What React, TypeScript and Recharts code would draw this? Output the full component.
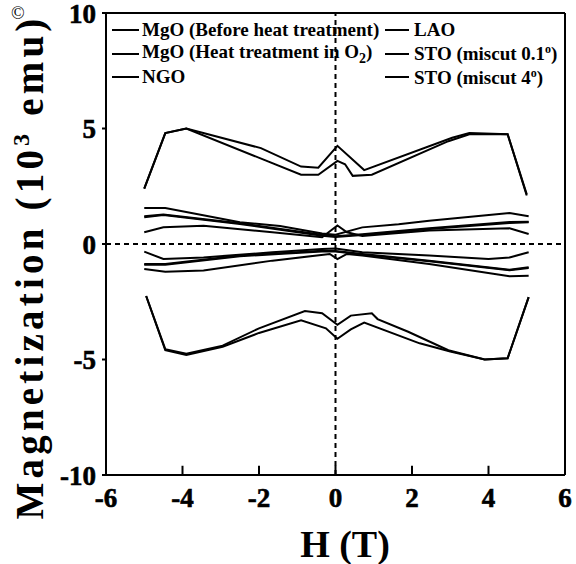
import React from "react";
import {
  LineChart,
  Line,
  XAxis,
  YAxis,
  ReferenceLine,
} from "recharts";

// H (T) vs M (10^3 emu); each sample has an upper and a lower branch
const mgoBeforeUp = [
  [-5, 2.4], [-4.45, 4.8], [-3.9, 5.0], [-1.95, 4.15], [-0.9, 3.35], [-0.45, 3.3],
  [0.05, 4.25], [0.75, 3.2], [3.05, 4.6], [3.5, 4.8], [4.5, 4.75], [5.0, 2.1],
];
const mgoBeforeDown = [
  [5.05, -2.3], [4.5, -4.95], [3.9, -5.0], [3.0, -4.65], [2.2, -4.3], [0.75, -3.4],
  [0.4, -3.7], [0.05, -4.1], [-0.25, -3.65], [-0.9, -3.3], [-2, -3.85],
  [-2.95, -4.45], [-3.9, -4.8], [-4.45, -4.6], [-4.95, -2.25],
];
const mgoO2Up = [
  [-5, 2.4], [-4.45, 4.8], [-3.9, 5.0], [-0.9, 3.0], [-0.45, 3.0], [0.05, 3.6],
  [0.25, 3.45], [0.45, 2.95], [0.95, 3.0], [2.95, 4.45], [3.5, 4.75], [4.5, 4.75], [5.0, 2.15],
];
const mgoO2Down = [
  [5.05, -2.3], [4.5, -4.95], [3.9, -5.0], [2.95, -4.6], [1.9, -3.8], [1.1, -3.25],
  [0.95, -3.0], [0.4, -3.1], [0.05, -3.5], [-0.35, -3.0], [-0.8, -2.9], [-2, -3.65],
  [-2.95, -4.4], [-3.9, -4.75], [-4.45, -4.55], [-4.95, -2.25],
];
const ngoUp = [
  [-5, 1.56], [-4.45, 1.56], [-2.5, 0.94], [-1.45, 0.78], [-0.35, 0.45], [0, 0.4],
  [0.7, 0.72], [1.65, 0.85], [2.45, 1.01], [4.55, 1.34], [5.05, 1.2],
];
const ngoDown = [
  [5.05, -0.36], [4.55, -0.58], [4.0, -0.65], [2.45, -0.5], [0.7, -0.36], [0, -0.2],
  [-0.35, -0.22], [-1.65, -0.36], [-3.45, -0.58], [-4.5, -0.65], [-5, -0.33],
];
const laoUp = [
  [-5, 1.16], [-4.5, 1.26], [-2.5, 0.87], [-0.35, 0.36], [0, 0.3], [0.7, 0.39],
  [2.45, 0.65], [4.55, 0.91], [5.05, 0.94],
];
const laoDown = [
  [5.05, -1.01], [4.55, -1.11], [2.45, -0.72], [0.7, -0.43], [0, -0.3], [-0.35, -0.29],
  [-2.5, -0.5], [-4.45, -0.87], [-5, -0.87],
];
const sto01Up = [
  [-5, 0.51], [-4.5, 0.72], [-3.45, 0.79], [-1.65, 0.51], [-0.35, 0.29], [0.05, 0.8],
  [0.3, 0.51], [0.7, 0.35], [2.45, 0.58], [4.55, 0.68], [5.05, 0.43],
];
const sto01Down = [
  [5.05, -1.37], [4.55, -1.4], [2.45, -0.87], [0.7, -0.5], [0.3, -0.43], [0.05, -0.65],
  [-0.15, -0.43], [-1.65, -0.72], [-3.45, -1.15], [-4.45, -1.2], [-5, -1.08],
];
const sto4Up = [
  [-5, 1.2], [-4.5, 1.28], [-2.5, 0.9], [-0.35, 0.4], [0, 0.34], [0.7, 0.42],
  [2.45, 0.68], [4.55, 0.95], [5.05, 0.96],
];
const sto4Down = [
  [5.05, -1.04], [4.55, -1.14], [2.45, -0.75], [0.7, -0.46], [0, -0.33], [-0.35, -0.32],
  [-2.5, -0.53], [-4.45, -0.9], [-5, -0.9],
];

const xTicks = [-6, -4, -2, 0, 2, 4, 6];
const yTicks = [-10, -5, 0, 5, 10];
// inward tick marks on the H axis
const innerXTicks = [-4, -2, 0, 2, 4];

const toBranches = (up: number[][], down: number[][]) => [
  ...up.map(([h, m]) => ({ h, m })),
  { h: up[up.length - 1][0], m: null },
  ...down.map(([h, m]) => ({ h, m })),
];

const series = [
  { name: "MgO (Before heat treatment)", data: toBranches(mgoBeforeUp, mgoBeforeDown) },
  { name: "MgO (Heat treatment in O2)", data: toBranches(mgoO2Up, mgoO2Down) },
  { name: "NGO", data: toBranches(ngoUp, ngoDown) },
  { name: "LAO", data: toBranches(laoUp, laoDown) },
  { name: "STO (miscut 0.1o)", data: toBranches(sto01Up, sto01Down) },
  { name: "STO (miscut 4o)", data: toBranches(sto4Up, sto4Down) },
];

const FONT = '"Liberation Serif", "Times New Roman", serif';

const tickStyle = {
  fill: "#000",
  stroke: "#000",
  strokeWidth: 0.6,
  fontFamily: FONT,
  fontWeight: 700,
  fontSize: 27,
};

const legendLabel = (name: string) => {
  if (name.endsWith("O2)")) {
    return (
      <>
        {name.slice(0, -3)}O<sub style={{ fontSize: 14, verticalAlign: -5 }}>2</sub>)
      </>
    );
  }
  const m = name.match(/^(.*\d)o\)$/);
  if (m) {
    return (
      <>
        {m[1]}
        <sup style={{ fontSize: 12, verticalAlign: 7 }}>o</sup>)
      </>
    );
  }
  return name;
};

const legendCols = [
  { left: 112, lineW: 27, items: [series[0], series[1], series[2]] },
  { left: 385, lineW: 24, items: [series[3], series[4], series[5]] },
];

export default function App() {
  return (
    <div style={{ position: "absolute", left: 0, top: 0, width: 576, height: 564, background: "#fff", fontFamily: FONT }}>
      <LineChart width={576} height={564} data={[]} margin={{ top: 12, right: 10, bottom: 59, left: 46 }}>
        <XAxis
          dataKey="h"
          type="number"
          domain={[-6, 6]}
          ticks={xTicks}
          tick={tickStyle}
          tickLine={false}
          tickSize={0}
          tickMargin={13}
          height={30}
          interval={0}
          axisLine={{ stroke: "#000", strokeWidth: 2 }}
        />
        <XAxis
          xAxisId="top"
          orientation="top"
          type="number"
          domain={[-6, 6]}
          tick={false}
          tickLine={false}
          height={1}
          axisLine={{ stroke: "#000", strokeWidth: 2 }}
        />
        <YAxis
          type="number"
          domain={[-10, 10]}
          ticks={yTicks}
          tick={tickStyle}
          tickLine={{ stroke: "#000", strokeWidth: 2 }}
          tickSize={4}
          tickMargin={6}
          width={60}
          interval={0}
          axisLine={{ stroke: "#000", strokeWidth: 2 }}
        />
        <YAxis
          yAxisId="right"
          orientation="right"
          type="number"
          domain={[-10, 10]}
          tick={false}
          tickLine={false}
          width={1}
          axisLine={{ stroke: "#000", strokeWidth: 2 }}
        />
        {innerXTicks.map((t) => (
          <ReferenceLine
            key={`it-${t}`}
            segment={[{ x: t, y: -10 }, { x: t, y: -9.6 }]}
            stroke="#000"
            strokeWidth={2}
          />
        ))}
        <ReferenceLine x={0} stroke="#000" strokeWidth={2} strokeDasharray="5 4" />
        <ReferenceLine y={0} stroke="#000" strokeWidth={2} strokeDasharray="5 4" />
        {series.map((s) => (
          <Line
            key={s.name}
            data={s.data}
            dataKey="m"
            name={s.name}
            type="linear"
            stroke="#000"
            strokeWidth={2}
            dot={false}
            connectNulls={false}
            isAnimationActive={false}
          />
        ))}
      </LineChart>

      {/* legend */}
      {legendCols.map((col, ci) =>
        col.items.map((s, i) => (
          <div
            key={s.name}
            style={{
              position: "absolute",
              left: col.left,
              top: 30 + i * 23.5 - 12,
              height: 24,
              display: "flex",
              alignItems: "center",
              fontSize: 19,
              fontWeight: "bold",
              whiteSpace: "nowrap",
              color: "#000",
            }}
          >
            <span style={{ display: "inline-block", width: col.lineW, height: 2, background: "#000", marginRight: ci === 0 ? 3 : 5 }} />
            <span>{legendLabel(s.name)}</span>
          </div>
        ))
      )}

      <div style={{ position: "absolute", left: 11, top: 3, fontSize: 18, color: "#000" }}>©</div>

      <svg width={576} height={564} style={{ position: "absolute", left: 0, top: 0, pointerEvents: "none" }}>
        <text
          transform="translate(43, 267) rotate(-90)"
          textAnchor="middle"
          fontFamily={FONT}
          fontWeight="bold"
          fontSize={39}
          letterSpacing={4.2}
          fill="#000"
        >
          Magnetization (10
          <tspan fontSize={24} dy={-14}>3</tspan>
          <tspan dy={14}> emu)</tspan>
        </text>
        <text x={345} y={557} textAnchor="middle" fontFamily={FONT} fontWeight="bold" fontSize={38} fill="#000">
          H (T)
        </text>
      </svg>
    </div>
  );
}
